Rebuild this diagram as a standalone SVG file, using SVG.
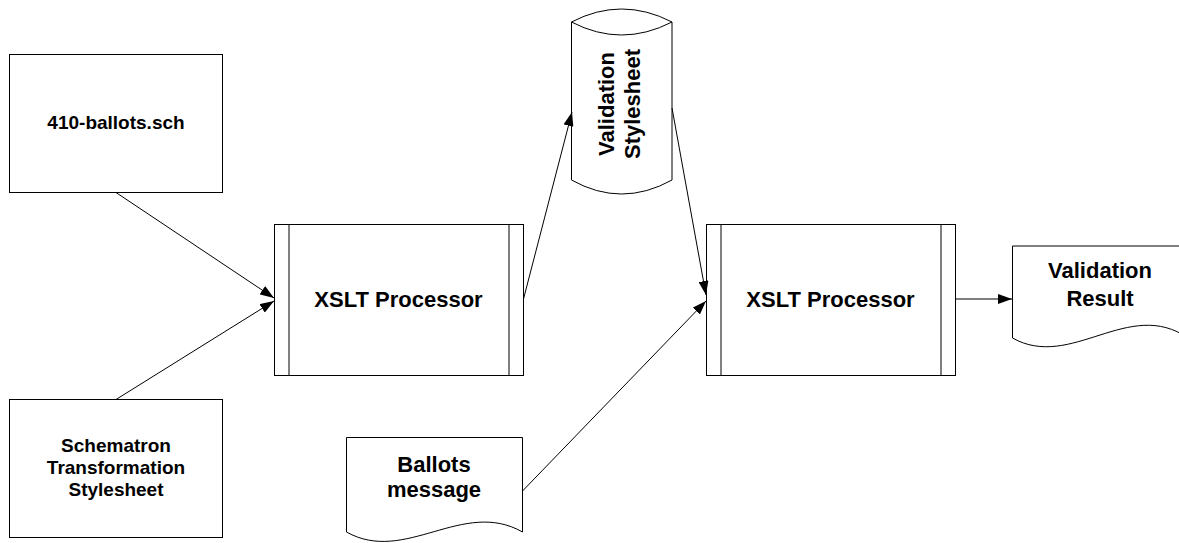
<svg xmlns="http://www.w3.org/2000/svg" width="1179" height="543" viewBox="0 0 1179 543">
<style>
.s{fill:#fff;stroke:#000;stroke-width:1}
.t{font-family:"Liberation Sans",Arial,sans-serif;font-weight:bold;fill:#000;text-anchor:middle}
.c{fill:none;stroke:#000;stroke-width:1}
</style>
<defs>
<marker id="ah" viewBox="0 0 14 10" refX="14" refY="5" markerWidth="14" markerHeight="10" markerUnits="userSpaceOnUse" orient="auto">
<path d="M0,0 L14,5 L0,10 z" fill="#000"/>
</marker>
</defs>
<rect width="1179" height="543" fill="#fff"/>
<g id="n-sch">
<rect class="s" x="9.5" y="54.5" width="213" height="138"/>
<text class="t" x="116" y="129" font-size="19">410-ballots.sch</text>
</g>
<g id="n-schematron">
<rect class="s" x="9.5" y="399.5" width="213" height="138"/>
<text class="t" font-size="19"><tspan x="116" y="452">Schematron</tspan><tspan x="116" y="474">Transformation</tspan><tspan x="116" y="496">Stylesheet</tspan></text>
</g>
<g id="n-xslt1">
<rect class="s" x="274.5" y="224.5" width="249" height="151"/>
<line class="c" x1="289" y1="224.5" x2="289" y2="375.5"/>
<line class="c" x1="509" y1="224.5" x2="509" y2="375.5"/>
<text class="t" x="398.5" y="307" font-size="22">XSLT Processor</text>
</g>
<g id="n-valstyle">
<path class="s" d="M571.5,22 Q621.5,-4 672,22 L672,180 Q621.5,208 571.5,180 Z"/>
<path class="c" d="M571.5,22 Q621.5,48 672,22"/>
<text class="t" font-size="22" transform="translate(614,104) rotate(-90)">Validation</text>
<text class="t" font-size="22" transform="translate(640,104) rotate(-90)">Stylesheet</text>
</g>
<g id="n-xslt2">
<rect class="s" x="706.5" y="224.5" width="249" height="151"/>
<line class="c" x1="721" y1="224.5" x2="721" y2="375.5"/>
<line class="c" x1="941" y1="224.5" x2="941" y2="375.5"/>
<text class="t" x="830.5" y="307" font-size="22">XSLT Processor</text>
</g>
<g id="n-ballots">
<path class="s" d="M346.5,437.5 L522.5,437.5 L522.5,532 C463,498 405,565 346.5,532 Z"/>
<text class="t" font-size="22"><tspan x="434" y="472">Ballots</tspan><tspan x="434" y="497">message</tspan></text>
</g>
<g id="n-result">
<path class="s" d="M1012.5,246 L1188,246 L1188,338 C1129,297 1071,371 1012.5,338 Z"/>
<text class="t" font-size="22"><tspan x="1100" y="278">Validation</tspan><tspan x="1100" y="306">Result</tspan></text>
</g>
<g id="connectors">
<line class="c" x1="116" y1="192.5" x2="274" y2="298" marker-end="url(#ah)"/>
<line class="c" x1="116" y1="399.5" x2="274" y2="301" marker-end="url(#ah)"/>
<line class="c" x1="523.5" y1="299" x2="572" y2="112" marker-end="url(#ah)"/>
<line class="c" x1="672" y1="108" x2="706" y2="295" marker-end="url(#ah)"/>
<line class="c" x1="522.5" y1="491" x2="706" y2="301" marker-end="url(#ah)"/>
<line class="c" x1="955.5" y1="299" x2="1012" y2="299" marker-end="url(#ah)"/>
</g>
</svg>
